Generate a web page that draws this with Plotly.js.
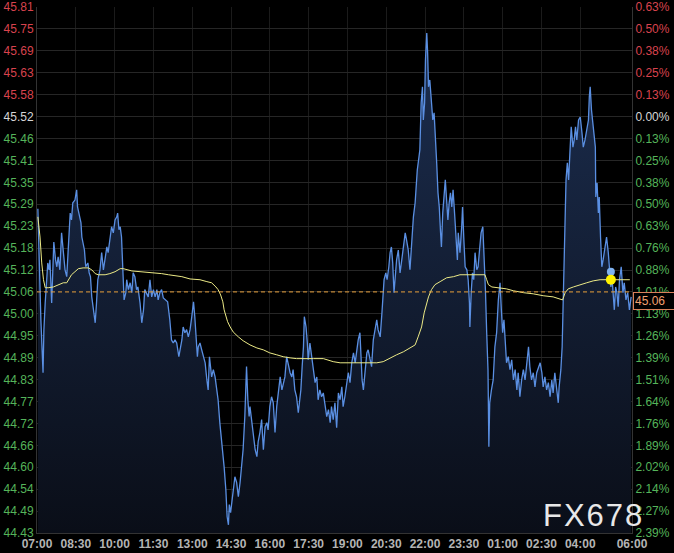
<!DOCTYPE html>
<html>
<head>
<meta charset="utf-8">
<script src="https://cdn.plot.ly/plotly-3.0.1.min.js"></script>
<style>
  html, body { margin: 0; padding: 0; background: #000; }
  #chart { width: 674px; height: 553px; }
</style>
</head>
<body>
<div id="chart"></div>
<script>
// ---- data (minutes after 07:00) ----
const times = [2,5,7,9,14,16,19,25,28,30,34,37,39,43,46,49,53,57,61,65,69,72,77,80,83,88,92,94,97,102,104,110,113,118,121,124,127,130,135,138,141,146,150,154,158,162,165,169,173,177,181,185,187,190,193,196,199,202,206,208,212,216,220,223,227,231,234,239,243,247,250,258,262,266,270,274,278,281,285,289,293,297,303,308,312,316,320,324,329,336,339,343,347,351,355,359,363,366,370,372,374,378,382,386,390,394,397,400,403,405,409,413,417,420,424,428,432,434,438,440,441,444,446,449,452,455,459,463,467,471,475,478,482,486,489,492,494,498,502,506,510,513,517,521,525,529,533,536,540,544,548,552,556,560,564,568,571,575,579,583,587,591,594,598,602,606,608,612,615,618,620,624,627,629,633,637,641,645,649,652,656,660,664,668,672,676,680,683,687,691,695,699,703,707,710,714,718,722,726,730,734,738,741,745,749,751,754,757,761,765,768,772,776,780,784,788,791,796,800,802,805,809,812,816,819,822,825,828,831,834,838,842,846,850,854,857,861,865,869,873,877,879,882,885,888,891,894,896,899,901,904,906,908,911,914,918,921,924,927,930,933,936,938,941,944,947,950,953,956,959,962,965,969,972,975,977,981,985,987,990,993,997,1000,1003,1004,1007,1010,1013,1016,1020,1023,1027,1030,1034,1037,1040,1043,1046,1048,1050,1054,1058,1062,1066,1070,1074,1077,1080,1083,1086,1089,1093,1097,1101,1105,1109,1113,1116,1120,1124,1128,1132,1136,1140,1143,1147,1151,1155,1159,1163,1167,1171,1174,1178,1182,1186,1190,1194,1197,1201,1205,1209,1211,1215,1218,1221,1224,1227,1230,1233,1236,1239,1243,1246,1249,1252,1256,1260,1264,1267,1271,1275,1279,1281,1283,1286,1289,1292,1295,1296,1299,1302,1304,1307,1310,1313,1317,1321,1325,1328,1331,1334,1336,1339,1342,1345,1348,1351,1355,1359,1362,1366,1370,1374,1378];

const prices = [45.278,45.144,45.079,44.987,44.848,44.961,45.031,45.136,45.118,45.144,
45.031,45.163,45.191,45.144,45.126,45.152,45.118,45.215,45.163,45.118,
45.100,45.178,45.267,45.249,45.294,45.301,45.328,45.283,45.267,45.241,
45.204,45.170,45.126,45.136,45.110,45.100,45.047,45.021,44.979,45.031,
45.092,45.118,45.163,45.118,45.152,45.178,45.163,45.204,45.231,45.215,
45.249,45.257,45.267,45.223,45.231,45.204,45.118,45.039,45.058,45.092,
45.066,45.084,45.058,45.110,45.100,45.066,45.073,45.031,44.979,45.013,
45.066,45.047,45.092,45.047,45.066,45.047,45.066,45.039,45.058,45.066,
45.044,45.039,45.034,44.987,44.934,44.926,44.934,44.926,44.890,44.934,
44.968,44.953,44.961,44.942,44.961,44.995,45.034,44.995,44.934,44.890,
44.916,44.926,44.908,44.890,44.874,44.829,44.803,44.890,44.856,44.837,
44.856,44.837,44.803,44.777,44.717,44.672,44.638,44.601,44.541,44.502,
44.470,44.449,44.502,44.481,44.513,44.541,44.575,44.560,44.523,44.560,
44.612,44.646,44.733,44.864,44.777,44.733,44.759,44.717,44.680,44.646,
44.628,44.667,44.691,44.725,44.646,44.706,44.717,44.698,44.759,44.785,
44.769,44.691,44.759,44.803,44.837,44.803,44.822,44.837,44.890,44.864,
44.848,44.837,44.856,44.803,44.785,44.743,44.759,44.803,44.864,44.916,
44.995,44.968,44.926,44.882,44.926,44.890,44.848,44.822,44.837,44.777,
44.803,44.785,44.795,44.759,44.733,44.751,44.717,44.759,44.725,44.769,
44.704,44.795,44.777,44.811,44.759,44.785,44.811,44.848,44.822,44.874,
44.900,44.874,44.900,44.934,44.953,44.900,44.829,44.803,44.856,44.900,
44.908,44.882,44.864,44.934,44.968,44.987,44.961,44.942,45.005,45.058,
45.092,45.110,45.092,45.126,45.163,45.178,45.136,45.058,45.110,45.144,
45.170,45.110,45.144,45.178,45.215,45.197,45.170,45.118,45.197,45.257,
45.294,45.346,45.380,45.406,45.433,45.556,45.598,45.511,45.556,45.669,
45.739,45.687,45.598,45.616,45.564,45.511,45.530,45.477,45.399,45.320,
45.283,45.215,45.178,45.267,45.320,45.354,45.301,45.249,45.294,45.320,
45.283,45.328,45.257,45.178,45.144,45.215,45.163,45.231,45.283,45.197,
45.126,45.118,45.092,45.031,44.968,45.058,45.110,45.092,45.163,45.118,
45.126,45.178,45.215,45.231,45.163,45.066,44.953,44.856,44.654,44.769,
44.803,44.829,44.916,44.953,45.039,45.084,45.013,44.953,44.987,44.916,
44.874,44.890,44.856,44.882,44.829,44.856,44.803,44.848,44.785,44.829,
44.856,44.829,44.882,44.916,44.864,44.829,44.848,44.811,44.848,44.864,
44.874,44.848,44.811,44.837,44.803,44.822,44.785,44.829,44.795,44.848,
44.811,44.769,44.811,44.856,44.916,45.047,45.223,45.354,45.399,45.354,
45.425,45.493,45.440,45.459,45.493,45.459,45.511,45.519,45.477,45.440,
45.459,45.485,45.511,45.572,45.598,45.538,45.503,45.485,45.440,45.309,
45.346,45.267,45.309,45.204,45.126,45.144,45.178,45.204,45.163,45.110,
45.073,45.092,45.047,45.013,45.073,45.058,45.021,45.092,45.126,45.058,
45.084,45.039,45.058,45.013,45.047];

const avgTimes = [2,7,11,15,19,26,38,49,61,69,73,80,88,96,107,119,127,135,142,158,169,181,193,200,220,243,266,289,305,320,336,355,378,394,405,415,420,426,431,434,438,442,448,455,467,478,494,510,525,540,556,571,587,602,641,664,687,703,726,757,788,803,819,834,850,865,877,884,892,898,904,908,915,923,935,950,966,981,1004,1027,1039,1043,1047,1055,1074,1089,1105,1128,1151,1174,1197,1219,1225,1232,1244,1259,1275,1290,1306,1337,1375];

const avgPrices = [45.257,45.204,45.136,45.092,45.071,45.071,45.073,45.079,45.084,45.084,45.092,45.105,45.113,45.121,45.123,45.123,45.118,45.108,45.105,45.105,45.108,45.113,45.121,45.121,45.115,45.113,45.110,45.108,45.105,45.102,45.100,45.094,45.092,45.087,45.084,45.073,45.066,45.052,45.034,45.013,44.995,44.982,44.968,44.955,44.942,44.932,44.921,44.913,44.908,44.900,44.895,44.890,44.887,44.885,44.885,44.885,44.877,44.874,44.874,44.874,44.874,44.877,44.887,44.895,44.903,44.913,44.921,44.942,44.968,45.005,45.031,45.047,45.066,45.079,45.087,45.097,45.100,45.105,45.105,45.105,45.105,45.092,45.079,45.073,45.071,45.068,45.063,45.058,45.055,45.050,45.047,45.039,45.058,45.068,45.073,45.079,45.084,45.089,45.092,45.092,45.092];

const cursorTime = [1331];
const cursorPrice = [45.113];
const cursorAvg = [45.092];

const lastPrice = 45.06;
const prevClose = 45.52;

const xTickVals = [0,90,180,270,360,450,540,630,720,810,900,990,1080,1170,1260,1380];
const xTickText = ["07:00","08:30","10:00","11:30","13:00","14:30","16:00","17:30","19:00","20:30","22:00","23:30","01:00","02:30","04:00","06:00"];

const priceLabels = ["44.43","44.49","44.54","44.60","44.66","44.72","44.77","44.83","44.89","44.95","45.00","45.06","45.12","45.18","45.23","45.29","45.35","45.41","45.46","45.52","45.58","45.63","45.69","45.75","45.81"];
const pctLabels = ["2.39%","2.27%","2.14%","2.02%","1.89%","1.76%","1.64%","1.51%","1.39%","1.26%","1.13%","1.01%","0.88%","0.76%","0.63%","0.50%","0.38%","0.25%","0.13%","0.00%","0.13%","0.25%","0.38%","0.50%","0.63%"];

// ---- scale / styling ----
const yMin = 44.4275, yMax = 45.8075;
const step = (yMax - yMin) / (priceLabels.length - 1);
const yTickVals = priceLabels.map((_, i) => yMin + i * step);
const zeroIdx = priceLabels.indexOf("45.52");
const RED = "#d8434e", GREEN = "#55b45a", WHITE = "#d6d6d6";
function colorFor(i) { return i > zeroIdx ? RED : (i === zeroIdx ? WHITE : GREEN); }
const leftText = priceLabels.map((t, i) => `<span style="color:${colorFor(i)}">${t}</span>`);
const rightText = pctLabels.map((t, i) => `<span style="color:${colorFor(i)}">${t}</span>`);

const FONT = "Liberation Sans, Arial, sans-serif";

const traces = [
  { // baseline for fill
    x: [times[0], times[times.length - 1]], y: [yMin, yMin],
    type: "scatter", mode: "lines", line: { width: 0, color: "rgba(0,0,0,0)" },
    hoverinfo: "skip", showlegend: false
  },
  {
    x: times, y: prices, type: "scatter", mode: "lines",
    line: { color: "#5a8fe2", width: 1.3 },
    fill: "tonexty",
    fillcolor: "rgba(22,36,62,0.9)",
    fillgradient: { type: "vertical", start: yMin, stop: 45.75,
      colorscale: [[0, "rgb(10,14,24)"], [1, "rgb(28,46,80)"]] },
    hoverinfo: "skip", showlegend: false
  },
  {
    x: avgTimes, y: avgPrices, type: "scatter", mode: "lines",
    line: { color: "#ecea86", width: 1 },
    hoverinfo: "skip", showlegend: false
  },
  {
    x: [0, 1380], y: [lastPrice, lastPrice], type: "scatter", mode: "lines",
    line: { color: "#e8a03c", width: 1, dash: "4px,3px" },
    yaxis: "y2", hoverinfo: "skip", showlegend: false
  },
  {
    x: cursorTime, y: cursorPrice, type: "scatter", mode: "markers",
    marker: { color: "#7fb2f0", size: 8 }, hoverinfo: "skip", showlegend: false
  },
  {
    x: cursorTime, y: cursorAvg, type: "scatter", mode: "markers",
    marker: { color: "#fff200", size: 10 }, hoverinfo: "skip", showlegend: false
  }
];

const layout = {
  width: 674, height: 553,
  margin: { l: 37, r: 42, t: 7, b: 20, pad: 0 },
  paper_bgcolor: "#000", plot_bgcolor: "#000",
  showlegend: false,
  font: { family: FONT, size: 12, color: "#ccc" },
  xaxis: {
    range: [0, 1380], tickmode: "array", tickvals: xTickVals, ticktext: xTickText,
    showgrid: true, gridcolor: "#1b1b1b", gridwidth: 1, zeroline: false,
    showline: true, linecolor: "#333", ticks: "",
    tickfont: { family: FONT, size: 12, color: "#b4b4b4", weight: "bold" },
    fixedrange: true
  },
  yaxis: {
    range: [yMin, yMax], tickmode: "array", tickvals: yTickVals, ticktext: leftText,
    showgrid: true, gridcolor: "#262626", gridwidth: 1, zeroline: false,
    showline: true, linecolor: "#333", ticks: "",
    tickfont: { family: FONT, size: 12 }, fixedrange: true
  },
  yaxis2: {
    range: [yMin, yMax], overlaying: "y", side: "right",
    tickmode: "array", tickvals: yTickVals, ticktext: rightText,
    showgrid: false, zeroline: false, showline: true, linecolor: "#333", ticks: "",
    tickfont: { family: FONT, size: 12 }, fixedrange: true
  },
  annotations: [
    {
      xref: "paper", yref: "y", x: 1, y: lastPrice, xanchor: "left", yanchor: "top",
      text: "45.06", showarrow: false, align: "left",
      font: { family: FONT, size: 12, color: "#f0a070" },
      bgcolor: "#000", bordercolor: "#d9805a", borderwidth: 1, borderpad: 1,
      width: 44, xshift: 1
    },
    {
      xref: "paper", yref: "paper", x: 0.936, y: 0.033, xanchor: "center", yanchor: "middle",
      text: '<span style="letter-spacing:2px">FX678</span>', showarrow: false,
      font: { family: FONT, size: 31, color: "#e8e8e8" }
    }
  ]
};

Plotly.newPlot("chart", traces, layout, { staticPlot: true, displayModeBar: false });
</script>
</body>
</html>
